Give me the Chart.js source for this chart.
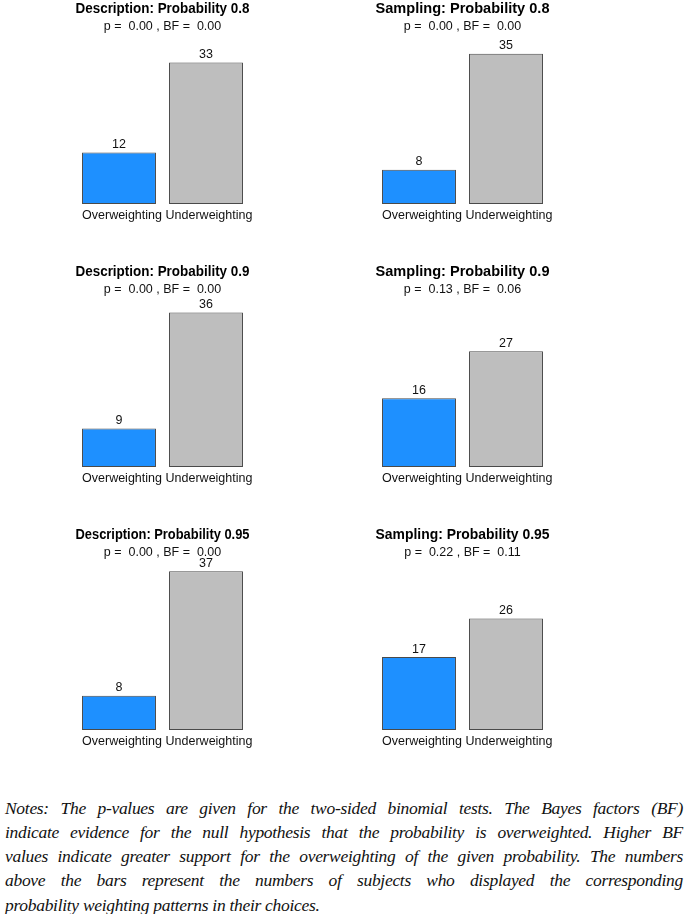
<!DOCTYPE html>
<html>
<head>
<meta charset="utf-8">
<script src="https://cdn.jsdelivr.net/npm/chart.js@4.4.0/dist/chart.umd.min.js"></script>
<style>
  body { margin: 0; background: #fff; width: 685px; height: 914px; position: relative; overflow: hidden; }
  canvas.panel { position: absolute; }
  #notes { position: absolute; left: 5px; top: 795.5px; width: 678px;
           font-family: 'Liberation Serif', 'Times New Roman', serif; font-style: italic;
           font-size: 17.5px; letter-spacing: -0.3px; line-height: 24.3px; color: #111; }
  #notes div { text-align: justify; text-align-last: justify; white-space: nowrap; }
  #notes div.last { text-align-last: left; }
</style>
</head>
<body>
<canvas class="panel" id="c0" width="300" height="263" style="left:12px;top:0px"></canvas>
<canvas class="panel" id="c1" width="300" height="263" style="left:312px;top:0px"></canvas>
<canvas class="panel" id="c2" width="300" height="263" style="left:12px;top:263px"></canvas>
<canvas class="panel" id="c3" width="300" height="263" style="left:312px;top:263px"></canvas>
<canvas class="panel" id="c4" width="300" height="263" style="left:12px;top:526px"></canvas>
<canvas class="panel" id="c5" width="300" height="263" style="left:312px;top:526px"></canvas>

<div id="notes">
  <div>Notes: The p-values are given for the two-sided binomial tests. The Bayes factors (BF)</div>
  <div>indicate evidence for the null hypothesis that the probability is overweighted. Higher BF</div>
  <div>values indicate greater support for the overweighting of the given probability. The numbers</div>
  <div>above the bars represent the numbers of subjects who displayed the corresponding</div>
  <div class="last">probability weighting patterns in their choices.</div>
</div>

<script>
// panels in reading order: left column = Description, right column = Sampling
const panelTitles = [
    'Description: Probability 0.8', 'Sampling: Probability 0.8',
    'Description: Probability 0.9', 'Sampling: Probability 0.9',
    'Description: Probability 0.95', 'Sampling: Probability 0.95'
];
const pValues = ['0.00', '0.00', '0.00', '0.13', '0.00', '0.22'];
const bfValues = ['0.00', '0.00', '0.00', '0.06', '0.00', '0.11'];
const categories = ['Overweighting', 'Underweighting'];
const overweighting = [12, 8, 9, 16, 8, 17];
const underweighting = [33, 35, 36, 27, 37, 26];
const yMax = 39.5;

const FONT = "'Liberation Sans', Arial, sans-serif";

// number above each bar
const barValueLabels = {
    id: 'barValueLabels',
    afterDatasetsDraw(chart) {
        const ctx = chart.ctx;
        const meta = chart.getDatasetMeta(0);
        ctx.save();
        ctx.font = '12.5px ' + FONT;
        ctx.fillStyle = '#111';
        ctx.textAlign = 'center';
        ctx.textBaseline = 'middle';
        meta.data.forEach((bar, i) => {
            ctx.fillText(chart.data.datasets[0].data[i], bar.x, bar.y - 8);
        });
        ctx.restore();
    }
};

function createPanel(i) {
    const ctx = document.getElementById('c' + i).getContext('2d');
    return new Chart(ctx, {
        type: 'bar',
        data: {
            labels: categories,
            datasets: [{
                data: [overweighting[i], underweighting[i]],
                backgroundColor: ['#1E90FF', '#BEBEBE'],
                borderColor: '#4a4a4a',
                borderWidth: 1,
                borderSkipped: false,
                categoryPercentage: 1,
                barPercentage: 0.85
            }]
        },
        options: {
            responsive: false,
            animation: false,
            layout: { padding: { left: 63.5, right: 62.5, top: 0, bottom: 36 } },
            plugins: {
                legend: { display: false },
                tooltip: { enabled: false },
                title: {
                    display: true,
                    text: panelTitles[i],
                    color: '#000',
                    font: { family: FONT, size: 15, weight: 'bold' },
                    padding: { top: 0, bottom: 1.5 }
                },
                subtitle: {
                    display: true,
                    text: 'p =  ' + pValues[i] + ' , BF =  ' + bfValues[i],
                    color: '#111',
                    font: { family: FONT, size: 12.5 },
                    padding: { top: 0, bottom: 0 }
                }
            },
            scales: {
                x: {
                    grid: { display: false, drawTicks: false },
                    border: { display: false },
                    ticks: { color: '#111', font: { family: FONT, size: 12.5 }, padding: 4, labelOffset: 3, maxRotation: 0, autoSkip: false }
                },
                y: {
                    display: false,
                    min: 0,
                    max: yMax
                }
            }
        },
        plugins: [barValueLabels]
    });
}

document.addEventListener('DOMContentLoaded', function() {
    panelTitles.forEach((t, i) => createPanel(i));
});
</script>
</body>
</html>
